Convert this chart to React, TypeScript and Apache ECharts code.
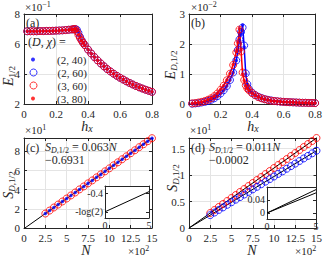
import React, { useEffect, useRef } from "react";
import * as echarts from "echarts";

// ---------------- data ----------------
const hx = [0.02, 0.04, 0.06, 0.08, 0.1, 0.12, 0.14, 0.16, 0.18, 0.2, 0.22, 0.24, 0.26, 0.28, 0.3, 0.31, 0.32, 0.33, 0.34, 0.35, 0.36, 0.37, 0.38, 0.4, 0.42, 0.44, 0.46, 0.48, 0.5, 0.52, 0.54, 0.56, 0.58, 0.6, 0.62, 0.64, 0.66, 0.68, 0.7, 0.72, 0.74, 0.76, 0.78, 0.8];

// panel (a): E_1/2 (x10^-1)
const eA_2_40 = [6.85, 6.85, 6.85, 6.85, 6.86, 6.86, 6.87, 6.87, 6.88, 6.89, 6.9, 6.91, 6.93, 6.95, 6.97, 6.98, 7.0, 6.98, 6.82, 6.5, 6.27, 6.08, 5.93, 5.63, 5.37, 5.13, 4.91, 4.7, 4.51, 4.33, 4.17, 4.02, 3.88, 3.75, 3.63, 3.51, 3.4, 3.3, 3.2, 3.11, 3.03, 2.95, 2.88, 2.81];
const eA_2_60 = [6.85, 6.85, 6.85, 6.85, 6.86, 6.86, 6.87, 6.87, 6.88, 6.89, 6.9, 6.91, 6.93, 6.95, 6.97, 6.98, 6.99, 6.96, 6.75, 6.48, 6.26, 6.08, 5.93, 5.63, 5.37, 5.13, 4.91, 4.7, 4.51, 4.33, 4.17, 4.02, 3.88, 3.75, 3.63, 3.51, 3.4, 3.3, 3.2, 3.11, 3.03, 2.95, 2.88, 2.81];
const eA_3_60 = [6.85, 6.85, 6.85, 6.85, 6.86, 6.86, 6.87, 6.87, 6.88, 6.89, 6.9, 6.91, 6.93, 6.95, 6.97, 6.99, 7.0, 6.85, 6.6, 6.4, 6.22, 6.06, 5.92, 5.63, 5.37, 5.13, 4.91, 4.7, 4.51, 4.33, 4.17, 4.02, 3.88, 3.75, 3.63, 3.51, 3.4, 3.3, 3.2, 3.11, 3.03, 2.95, 2.88, 2.81];
const eA_3_80 = [6.85, 6.85, 6.85, 6.85, 6.86, 6.86, 6.87, 6.87, 6.88, 6.89, 6.9, 6.91, 6.93, 6.95, 6.97, 6.99, 7.01, 6.88, 6.62, 6.41, 6.22, 6.06, 5.92, 5.63, 5.37, 5.13, 4.91, 4.7, 4.51, 4.33, 4.17, 4.02, 3.88, 3.75, 3.63, 3.51, 3.4, 3.3, 3.2, 3.11, 3.03, 2.95, 2.88, 2.81];

// panel (b): E_D,1/2 (x10^-2)
const eB_2_40 = [0.01, 0.02, 0.03, 0.05, 0.07, 0.1, 0.14, 0.19, 0.26, 0.35, 0.46, 0.6, 0.8, 1.05, 1.45, 1.78, 2.12, 2.35, 2.63, 1.9, 1.0, 0.66, 0.5, 0.38, 0.3, 0.24, 0.2, 0.16, 0.14, 0.12, 0.1, 0.09, 0.08, 0.07, 0.065, 0.06, 0.055, 0.05, 0.045, 0.04, 0.04, 0.035, 0.035, 0.03];
const eB_2_60 = [0.01, 0.02, 0.03, 0.05, 0.07, 0.1, 0.14, 0.19, 0.26, 0.35, 0.46, 0.6, 0.8, 1.05, 1.45, 1.8, 2.15, 2.4, 2.55, 1.95, 1.02, 0.66, 0.5, 0.38, 0.3, 0.24, 0.2, 0.16, 0.14, 0.12, 0.1, 0.09, 0.08, 0.07, 0.065, 0.06, 0.055, 0.05, 0.045, 0.04, 0.04, 0.035, 0.035, 0.03];
const eB_3_60 = [0.02, 0.03, 0.05, 0.07, 0.1, 0.14, 0.19, 0.26, 0.35, 0.47, 0.61, 0.79, 1.01, 1.3, 1.72, 2.02, 2.48, 1.75, 1.05, 0.8, 0.62, 0.52, 0.46, 0.36, 0.29, 0.23, 0.19, 0.16, 0.13, 0.11, 0.1, 0.09, 0.08, 0.07, 0.065, 0.06, 0.055, 0.05, 0.045, 0.04, 0.04, 0.035, 0.035, 0.03];
const eB_3_80 = [0.02, 0.03, 0.05, 0.07, 0.1, 0.14, 0.19, 0.26, 0.36, 0.48, 0.62, 0.8, 1.02, 1.32, 1.75, 2.05, 2.52, 1.8, 1.0, 0.78, 0.61, 0.52, 0.46, 0.36, 0.29, 0.23, 0.19, 0.16, 0.13, 0.11, 0.1, 0.09, 0.08, 0.07, 0.065, 0.06, 0.055, 0.05, 0.045, 0.04, 0.04, 0.035, 0.035, 0.03];

// panels (c), (d): N (x10^2), S (x10^1)
const nN = [2.5, 3, 3.5, 4, 4.5, 5, 5.5, 6, 6.5, 7, 7.5, 8, 8.5, 9, 9.5, 10, 10.5, 11, 11.5, 12, 12.5, 13, 13.5, 14, 14.5, 15];
const sC = [1.51, 1.82, 2.14, 2.45, 2.77, 3.08, 3.4, 3.71, 4.03, 4.34, 4.66, 4.97, 5.29, 5.6, 5.92, 6.23, 6.55, 6.86, 7.18, 7.49, 7.81, 8.12, 8.44, 8.75, 9.07, 9.38];
const sD_D3 = [0.283, 0.34, 0.397, 0.453, 0.51, 0.567, 0.623, 0.68, 0.736, 0.793, 0.85, 0.906, 0.963, 1.02, 1.076, 1.133, 1.19, 1.246, 1.303, 1.36, 1.416, 1.473, 1.53, 1.586, 1.643, 1.7];
const sD_D2 = [0.243, 0.292, 0.341, 0.389, 0.438, 0.487, 0.535, 0.584, 0.632, 0.681, 0.73, 0.778, 0.827, 0.876, 0.924, 0.973, 1.022, 1.07, 1.119, 1.168, 1.216, 1.265, 1.314, 1.362, 1.411, 1.46];
const fitN = [0, 15];
const fitC = [-0.0693, 9.381];
const fitD_D3 = [0, 1.7];
const fitD_D2 = [0, 1.46];
const insetN = [0, 5];
const insetC = [-0.6931, -0.3781];
const insetD_D3 = [0, 0.072];
const insetD_D2 = [0, 0.062];

const legendNames = ["(2, 40)", "(2, 60)", "(3, 60)", "(3, 80)"];
const insetCTicks = [-0.6931, -0.4];
const insetCLabels = ["-log(2)", "-0.4"];
const insetDTicks = [0, 0.04];
const insetDLabels = ["0", "0.04"];

// ---------------- styling ----------------
const FONT = "'Liberation Serif', 'Times New Roman', serif";
const AX = "#262626";
const GRIDC = "#e4e4e4";
const BLUE = "#0000ff";
const RED = "#ff0000";

const pts = (xs: number[], ys: number[]) => xs.map((x, i) => [x, ys[i]]);

const mainLabel = { show: true, fontFamily: FONT, fontSize: 11, color: AX, margin: 4 };
const insetLabel = { show: true, fontFamily: FONT, fontSize: 10, color: AX, margin: 2 };

function axesPair(g: number, pos1: string, pos2: string, min: number, max: number, interval: number | undefined, label: any, split: boolean, z: number, custom?: number[]) {
  const tick: any = { show: true, inside: true, length: 3, lineStyle: { color: AX, width: 1 } };
  if (custom) tick.customValues = custom;
  const base: any = {
    type: "value",
    gridIndex: g,
    min,
    max,
    z,
    axisLine: { show: true, onZero: false, lineStyle: { color: AX, width: 1 } },
    axisTick: tick,
  };
  if (interval !== undefined) base.interval = interval;
  return [
    { ...base, position: pos1, splitLine: { show: split, lineStyle: { color: GRIDC, width: 1 } }, axisLabel: label },
    { ...base, position: pos2, splitLine: { show: false }, axisLabel: { show: false } },
  ];
}

const isMult = (v: number, step: number) => Math.abs(v / step - Math.round(v / step)) < 1e-6;

const xAxis = [
  ...axesPair(0, "bottom", "top", 0, 0.8, 0.2, mainLabel, true, 0),
  ...axesPair(1, "bottom", "top", 0, 0.8, 0.2, mainLabel, true, 0),
  ...axesPair(2, "bottom", "top", 0, 15, 2.5, mainLabel, true, 0),
  ...axesPair(3, "bottom", "top", 0, 15, 2.5, mainLabel, true, 0),
  ...axesPair(4, "bottom", "top", 0, 5, 5, insetLabel, false, 4),
  ...axesPair(5, "bottom", "top", 0, 5, 5, insetLabel, false, 4),
];
const yAxis = [
  ...axesPair(0, "left", "right", 2, 8, 2, mainLabel, true, 0),
  ...axesPair(1, "left", "right", 0, 3, 1, mainLabel, true, 0),
  ...axesPair(2, "left", "right", 0, 9.4, 2, { ...mainLabel, showMaxLabel: false, formatter: (v: number) => (isMult(v, 2) ? String(v) : "") }, true, 0),
  ...axesPair(3, "left", "right", 0, 1.7, 0.5, { ...mainLabel, showMaxLabel: false, formatter: (v: number) => (isMult(v, 0.5) ? String(v) : "") }, true, 0),
  ...axesPair(4, "left", "right", -0.79, -0.29, undefined, { ...insetLabel, customValues: insetCTicks, formatter: (v: number) => insetCLabels[insetCTicks.findIndex((t) => Math.abs(t - v) < 1e-6)] ?? "" }, false, 4, insetCTicks),
  ...axesPair(5, "left", "right", -0.0185, 0.08, undefined, { ...insetLabel, customValues: insetDTicks, formatter: (v: number) => insetDLabels[insetDTicks.findIndex((t) => Math.abs(t - v) < 1e-6)] ?? "" }, false, 4, insetDTicks),
];

const dots = (name: string, ai: number, xs: number[], ys: number[], color: string, size = 3.5, z = 2) => ({
  type: "scatter", name, xAxisIndex: ai, yAxisIndex: ai, data: pts(xs, ys), symbol: "circle", symbolSize: size,
  itemStyle: { color }, clip: false, z, silent: true,
});
const rings = (name: string, ai: number, xs: number[], ys: number[], color: string, z = 2) => ({
  type: "scatter", name, xAxisIndex: ai, yAxisIndex: ai, data: pts(xs, ys), symbol: "circle", symbolSize: 7,
  itemStyle: { color: "rgba(0,0,0,0)", borderColor: color, borderWidth: 1 }, clip: false, z, silent: true,
});
const line = (name: string, ai: number, xs: number[], ys: number[], color: string, width: number, z = 2) => ({
  type: "line", name, xAxisIndex: ai, yAxisIndex: ai, data: pts(xs, ys), symbol: "none", showSymbol: false,
  lineStyle: { color, width }, z, silent: true,
});

const series = [
  // (a)
  dots(legendNames[0], 0, hx, eA_2_40, BLUE),
  rings(legendNames[1], 0, hx, eA_2_60, BLUE),
  rings(legendNames[2], 0, hx, eA_3_60, RED),
  dots(legendNames[3], 0, hx, eA_3_80, RED),
  // (b)
  rings("b-2-60", 2, hx, eB_2_60, BLUE),
  dots("b-2-40", 2, hx, eB_2_40, BLUE),
  line("b-2-40-line", 2, hx, eB_2_40, BLUE, 1.5),
  rings("b-3-60", 2, hx, eB_3_60, RED),
  dots("b-3-80", 2, hx, eB_3_80, RED),
  line("b-3-80-line", 2, hx, eB_3_80, RED, 1.5),
  // (c)
  rings("c-D3", 4, nN, sC, RED),
  dots("c-D2", 4, nN, sC, BLUE),
  line("c-fit", 4, fitN, fitC, "#000", 1),
  // (d)
  rings("d-D3", 6, nN, sD_D3, RED),
  rings("d-D2", 6, nN, sD_D2, BLUE),
  line("d-fit3", 6, fitN, fitD_D3, "#000", 1),
  line("d-fit2", 6, fitN, fitD_D2, "#000", 1),
  // insets
  line("ci", 8, insetN, insetC, "#000", 1, 5),
  line("di3", 10, insetN, insetD_D3, "#000", 1, 5),
  line("di2", 10, insetN, insetD_D2, "#000", 1, 5),
];

// legend: icon box equals the marker, text pushed right by padding
const legendRows = [60, 73, 86, 99];
const legendIcon = [4, 7, 7, 4];
const legendMarkerX = 33;
const legendTextX = 57;
const legend = legendNames.map((name, i) => {
  const r = legendIcon[i] / 2;
  return {
    data: [name],
    left: legendMarkerX - r,
    top: legendRows[i] - 6,
    padding: 0,
    orient: "vertical",
    itemWidth: legendIcon[i],
    itemHeight: legendIcon[i],
    itemGap: 0,
    selectedMode: false,
    textStyle: {
      fontFamily: FONT,
      fontSize: 11,
      color: AX,
      padding: [0, 0, 0, legendTextX - (legendMarkerX + r) - 5],
    },
    itemStyle: { borderWidth: legendIcon[i] > 5 ? 1 : 0 },
  };
});

// ---------------- text helpers ----------------
const R = (fontSize: number, extra: any = {}) => ({ fontFamily: FONT, fontSize, fill: AX, ...extra });
const T = (x: number, y: number, text: string, fontSize: number, rich: any = {}, opts: any = {}) => ({
  type: "text",
  x,
  y,
  z: 100,
  rotation: opts.rotation ?? 0,
  silent: true,
  style: {
    text,
    fontFamily: FONT,
    fontSize,
    fill: AX,
    align: opts.align ?? "left",
    verticalAlign: "middle",
    lineHeight: opts.lineHeight,
    rich,
  },
});

const supRich = { sup: R(8, { lineHeight: 8, verticalAlign: "top" }) };
const hxRich = {
  i: R(14, { fontStyle: "italic", lineHeight: 14 }),
  s: R(10, { fontStyle: "italic", lineHeight: 9, verticalAlign: "bottom" }),
};
const nRich = { i: R(14, { fontStyle: "italic", lineHeight: 10 }) };
const eRich = {
  i: R(14, { fontStyle: "italic", lineHeight: 16 }),
  s: R(9, { lineHeight: 9, verticalAlign: "bottom" }),
  si: R(9, { fontStyle: "italic", lineHeight: 9, verticalAlign: "bottom" }),
};
const fRich = {
  i: R(12, { fontStyle: "italic", lineHeight: 14 }),
  s: R(8, { lineHeight: 8, verticalAlign: "bottom" }),
  si: R(8, { fontStyle: "italic", lineHeight: 8, verticalAlign: "bottom" }),
};

const graphic = [
  T(25, 7, "×10{sup|−1}", 11, supRich, { lineHeight: 14 }),
  T(191, 7, "×10{sup|−2}", 11, supRich, { lineHeight: 14 }),
  T(25, 130, "×10{sup|1}", 11, supRich, { lineHeight: 14 }),
  T(190, 130, "×10{sup|1}", 11, supRich, { lineHeight: 14 }),
  T(128, 251, "×10{sup|2}", 11, supRich, { lineHeight: 14 }),
  T(295, 251, "×10{sup|2}", 11, supRich, { lineHeight: 14 }),
  T(26, 23, "(a)", 12),
  T(191, 23, "(b)", 12),
  T(26, 148, "(c)", 12),
  T(191, 148, "(d)", 12),
  T(28, 42, "({i|D}, {i|χ}) =", 12, { i: R(12, { fontStyle: "italic" }) }),
  T(87, 126, "{i|h}{s|x}", 14, hxRich, { align: "center" }),
  T(253, 126, "{i|h}{s|x}", 14, hxRich, { align: "center" }),
  T(86, 250, "{i|N}", 14, nRich, { align: "center" }),
  T(252, 250, "{i|N}", 14, nRich, { align: "center" }),
  T(8, 76, "{i|E}{s|1/2}", 14, eRich, { align: "center", rotation: Math.PI / 2 }),
  T(170, 65, "{i|E}{si|D}{s|,1/2}", 14, eRich, { align: "center", rotation: Math.PI / 2 }),
  T(8, 185, "{i|S}{si|D}{s|,1/2}", 14, eRich, { align: "center", rotation: Math.PI / 2 }),
  T(172, 178, "{i|S}{si|D}{s|,1/2}", 14, eRich, { align: "center", rotation: Math.PI / 2 }),
  T(45, 147, "{i|S}{si|D}{s|,1/2} = 0.063{i|N}", 12, fRich, { lineHeight: 14 }),
  T(45, 160, "−0.6931", 12),
  T(209, 147, "{i|S}{si|D}{s|,1/2} = 0.011{i|N}", 12, fRich, { lineHeight: 14 }),
  T(209, 160, "−0.0002", 12),
];

const option: any = {
  animation: false,
  backgroundColor: "#ffffff",
  grid: [
    { left: 24, top: 14, width: 128, height: 90 },
    { left: 189, top: 14, width: 130, height: 90 },
    { left: 24, top: 138, width: 128, height: 90 },
    { left: 189, top: 138, width: 130, height: 90 },
    { left: 105, top: 186, width: 44, height: 32, show: true, backgroundColor: "#ffffff", borderWidth: 0, z: 1 },
    { left: 267, top: 187, width: 49, height: 32, show: true, backgroundColor: "#ffffff", borderWidth: 0, z: 1 },
  ],
  xAxis,
  yAxis,
  legend,
  series,
  graphic,
};

export default function App() {
  const ref = useRef<HTMLDivElement>(null);
  useEffect(() => {
    if (!ref.current) return;
    const chart = echarts.init(ref.current, null, { renderer: "svg" });
    chart.setOption(option);
    return () => chart.dispose();
  }, []);
  return <div ref={ref} style={{ position: "fixed", left: 0, top: 0, width: 325, height: 258 }} />;
}
